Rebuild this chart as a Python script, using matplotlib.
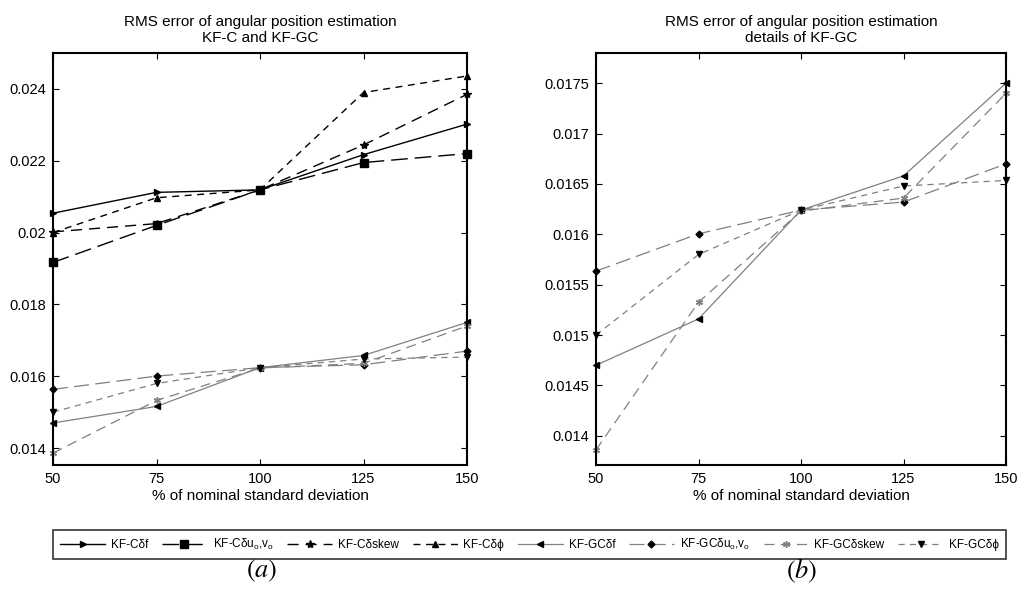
import matplotlib
matplotlib.use("Agg")
import matplotlib.pyplot as plt
from matplotlib.ticker import FuncFormatter

plt.rcParams['font.family'] = ['Liberation Sans', 'DejaVu Sans']
plt.rcParams['mathtext.default'] = 'regular'

x = [50, 75, 100, 125, 150]

kfc_df = [0.02054, 0.02112, 0.02119, 0.02217, 0.02302]
kfc_duv = [0.01917, 0.02020, 0.02119, 0.02195, 0.02220]
kfc_skew = [0.02002, 0.02025, 0.02119, 0.02244, 0.02385]
kfc_dphi = [0.02000, 0.02097, 0.02119, 0.02390, 0.02436]

kfgc_df = [0.01470, 0.01516, 0.01624, 0.01658, 0.01750]
kfgc_duv = [0.015635, 0.016005, 0.01624, 0.01632, 0.01670]
kfgc_skew = [0.01386, 0.015326, 0.01623, 0.01636, 0.01740]
kfgc_dphi = [0.01500, 0.01580, 0.01624, 0.01648, 0.016535]

labels = ['KF-Cδf', 'KF-Cδu$_o$,v$_o$', 'KF-Cδskew', 'KF-Cδϕ',
          'KF-GCδf', 'KF-GCδu$_o$,v$_o$', 'KF-GCδskew', 'KF-GCδϕ']

W, H = 1025, 589
fig = plt.figure(figsize=(W/100, H/100), dpi=100)

def pos(l, t, r, b):
    return [l/W, 1-b/H, (r-l)/W, (b-t)/H]

ax1 = fig.add_axes(pos(53, 53, 467, 465))
ax2 = fig.add_axes(pos(596, 53, 1006, 465))

gray = '#808080'
asterisk = (6, 2, 0)

def plot_c(ax):
    h = []
    h += ax.plot(x, kfc_df, color='k', lw=1.0, ls='-', marker='>', ms=5, clip_on=False)
    h += ax.plot(x, kfc_duv, color='k', lw=1.0, ls=(0, (12, 5)), marker='s', ms=6, clip_on=False)
    h += ax.plot(x, kfc_skew, color='k', lw=1.0, ls=(0, (8, 5)), marker='*', ms=6, clip_on=False)
    h += ax.plot(x, kfc_dphi, color='k', lw=1.0, ls=(0, (5, 4)), marker='^', ms=5, clip_on=False)
    return h

def plot_gc(ax):
    h = []
    h += ax.plot(x, kfgc_df, color=gray, lw=0.9, ls='-', marker='<', ms=4,
                 mfc='k', mec='k', clip_on=False)
    h += ax.plot(x, kfgc_duv, color=gray, lw=0.9, ls=(0, (12, 5)), marker='D', ms=3.5,
                 mfc='k', mec='k', clip_on=False)
    h += ax.plot(x, kfgc_skew, color=gray, lw=0.9, ls=(0, (8, 5)), marker=asterisk, ms=5,
                 mfc=gray, mec=gray, clip_on=False)
    h += ax.plot(x, kfgc_dphi, color=gray, lw=0.9, ls=(0, (5, 4)), marker='v', ms=4,
                 mfc='k', mec='k', clip_on=False)
    return h

handles = plot_c(ax1) + plot_gc(ax1)
plot_gc(ax2)

fmt = FuncFormatter(lambda v, p: ('%g' % round(v, 6)))
for ax in (ax1, ax2):
    ax.set_xlim(50, 150)
    ax.set_xticks(x)
    ax.yaxis.set_major_formatter(fmt)
    ax.tick_params(direction='in', top=True, right=True, length=4, width=0.8,
                   labelsize=10.5, pad=5)
    for s in ax.spines.values():
        s.set_linewidth(1.5)
    ax.set_xlabel('% of nominal standard deviation', fontsize=11, labelpad=2)

ax1.set_ylim(0.01353, 0.0250)
ax1.set_yticks([0.014, 0.016, 0.018, 0.020, 0.022, 0.024])
ax2.set_ylim(0.01371, 0.0178)
ax2.set_yticks([0.014, 0.0145, 0.015, 0.0155, 0.016, 0.0165, 0.017, 0.0175])

ax1.set_title('RMS error of angular position estimation\nKF-C and KF-GC',
              fontsize=11, pad=8, linespacing=1.2)
ax2.set_title('RMS error of angular position estimation\ndetails of KF-GC',
              fontsize=11, pad=8, linespacing=1.2)

leg = fig.legend(handles, labels, loc='lower left', ncol=8, mode='expand',
                 bbox_to_anchor=(53/W, 1-559/H, (1006-53)/W, (559-527)/H),
                 fontsize=8.5, handlelength=3.8, handletextpad=0.5,
                 columnspacing=0.6, borderaxespad=0, fancybox=False,
                 frameon=True, edgecolor='k', borderpad=0.6)
leg.get_frame().set_linewidth(1.2)

fig.text(262/W, 1-571/H, r'$\mathrm{(}\mathit{a}\mathrm{)}$', fontsize=19,
         math_fontfamily='stix', ha='center', va='center')
fig.text(802/W, 1-571/H, r'$\mathrm{(}\mathit{b}\mathrm{)}$', fontsize=19,
         math_fontfamily='stix', ha='center', va='center')

fig.savefig('out.png', dpi=100)
